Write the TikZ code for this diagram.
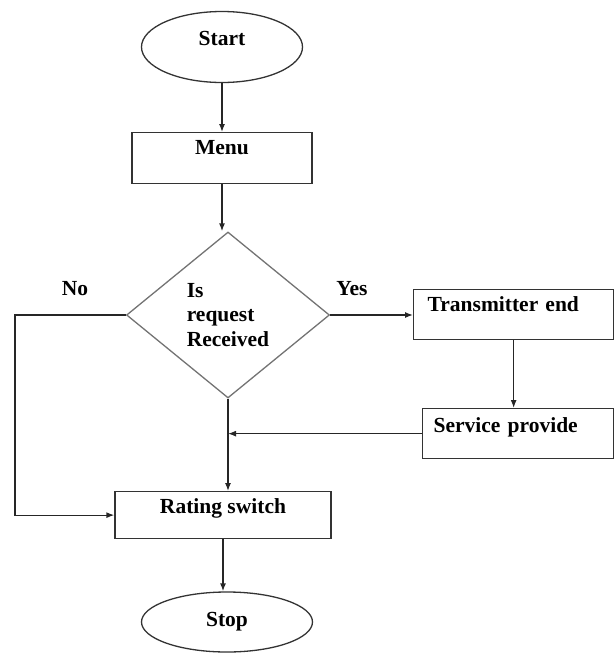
\documentclass[tikz,border=0pt]{standalone}
\usepackage{fontspec}
\setmainfont{Liberation Serif}
\usetikzlibrary{arrows, arrows.meta, shapes, positioning, calc}

\begin{document}
\begin{tikzpicture}[
  x=1pt, y=-1pt,
  every node/.style = {font=\fontsize{21.5}{24.5}\selectfont\bfseries},
  fbox/.style = {draw=black!80, line width=1.3pt, rectangle, inner ysep=0pt},
  fterm/.style = {draw=black!80, line width=1.3pt, ellipse, inner sep=0pt},
  fdec/.style = {draw=black!55, line width=1.3pt, diamond, inner sep=0pt, align=left},
  flow/.style = {-{Latex[length=8pt, width=6pt]}, line width=1.3pt, draw=black!85},
  ]
  \useasboundingbox (0,0) rectangle (614,653);

  \node[fterm, minimum width=161pt, minimum height=71pt,
  text height=14pt, text depth=18pt] (start) at (222,47) {Start};
  \node[fbox, minimum width=180pt, text height=22pt, text depth=29pt,
  anchor=north] (menu) at (222,132) {Menu};
  \node[fdec, minimum width=203pt, minimum height=166pt] (dec) at (228,315)
  {Is\\request\\Received};
  \node[fbox, anchor=north west, text width=172pt, inner xsep=14pt, align=left,
  text height=22pt, text depth=28pt] (trans) at (413,289) {Transmitter end};
  \node[fbox, anchor=north west, text width=169pt, inner xsep=11pt, align=left,
  text height=24pt, text depth=26pt] (serv) at (422,408) {Service provide};
  \node[fbox, minimum width=216pt, text height=22pt, text depth=25pt,
  anchor=north] (rate) at (223,491) {Rating switch};
  \node[fterm, minimum width=171pt, minimum height=60pt] (stop) at (227,622) {Stop};
  \node (no) at (75,289) {No};
  \node (yes) at (352,289) {Yes};
  \coordinate (nocorner) at (15,316);

  \draw[flow] (start) -- (menu);
  \draw[flow] (menu.south) -- (menu.south |- dec.north);
  \draw[flow] (dec.east) -- (dec.east -| trans.west);
  \draw[flow] (trans.south) -- (trans.south |- serv.north);
  \draw[flow] (serv.west) -- (dec.south |- serv.west);
  \draw[flow] (dec.south) -- (dec.south |- rate.north);
  \draw[flow] (dec.west) -- (dec.west -| nocorner) |- (rate.west);
  \draw[flow] (rate.south) -- (rate.south |- stop.north);
\end{tikzpicture}
\end{document}
